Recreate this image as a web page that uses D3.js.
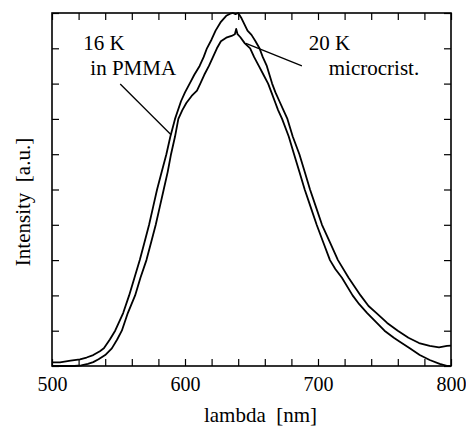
<!DOCTYPE html>
<html>
<head>
<meta charset="utf-8">
<script src="https://cdn.jsdelivr.net/npm/d3@7"></script>
<style>
  body { margin: 0; background: #fff; }
</style>
</head>
<body>
<div id="chart-area"></div>
<script>
/*
*   luminescence spectra, two samples
*/
let serif = "'Liberation Serif', 'Times New Roman', Times, serif";

// 16 K in PMMA (wider, outer curve)
let lambda16 = [500, 506, 514, 521, 526, 531, 536, 539, 543.5, 547.5, 553.5, 558, 562, 566, 569.5,
    573, 576, 579, 582.5, 586, 589, 592.5, 597, 600, 603.5, 607, 611, 614, 616.5, 620, 623, 627,
    631, 634, 636, 638, 640, 642.5, 647, 650, 653, 656, 658.5, 661.5, 663.5, 665.5, 668, 671, 674,
    677, 681, 686, 690, 694, 698.5, 703, 709, 715, 723, 732, 738, 744, 752, 760, 768, 776, 784,
    791, 797, 800];
let int16 = [0.010, 0.010, 0.015, 0.019, 0.024, 0.031, 0.042, 0.050, 0.075, 0.100, 0.150, 0.200,
    0.250, 0.300, 0.350, 0.400, 0.450, 0.500, 0.550, 0.600, 0.650, 0.700, 0.750, 0.775, 0.800,
    0.825, 0.850, 0.875, 0.900, 0.925, 0.950, 0.975, 0.992, 0.998, 1.000, 0.997, 1.000, 0.985,
    0.950, 0.938, 0.920, 0.900, 0.875, 0.850, 0.825, 0.800, 0.775, 0.750, 0.725, 0.700, 0.650,
    0.600, 0.550, 0.500, 0.450, 0.400, 0.350, 0.300, 0.250, 0.200, 0.170, 0.150, 0.122, 0.100,
    0.080, 0.065, 0.057, 0.053, 0.057, 0.058];

// 20 K microcrist. (inner curve)
let lambda20 = [500, 517, 522, 527, 531, 535, 540, 545, 549, 552.5, 557, 562.5, 566.5, 571, 574.5,
    578, 581, 584, 587, 589.5, 592.5, 595, 598, 601, 605, 609, 611.5, 614.5, 618, 621, 624, 627,
    631, 635, 637.5, 638.5, 639.5, 641.5, 645, 649, 652, 655.5, 659, 662.5, 665, 667.5, 670, 673,
    678, 682, 686, 690, 694.5, 699, 704, 709, 713, 718, 726, 731, 737, 743.5, 750, 757, 761.5, 769,
    776.5, 784, 791.5, 797.5, 800];
let int20 = [0.000, 0.000, 0.002, 0.006, 0.011, 0.019, 0.031, 0.050, 0.075, 0.100, 0.150, 0.200,
    0.250, 0.300, 0.350, 0.400, 0.450, 0.500, 0.550, 0.600, 0.650, 0.700, 0.725, 0.745, 0.765,
    0.780, 0.800, 0.825, 0.850, 0.875, 0.900, 0.920, 0.930, 0.935, 0.940, 0.955, 0.940, 0.932,
    0.914, 0.900, 0.875, 0.850, 0.825, 0.800, 0.775, 0.750, 0.725, 0.700, 0.650, 0.600, 0.550,
    0.500, 0.450, 0.400, 0.350, 0.300, 0.275, 0.250, 0.200, 0.175, 0.150, 0.125, 0.100, 0.080,
    0.069, 0.050, 0.031, 0.017, 0.006, 0.000, 0.000];

let xTickLabels = ["500", "600", "700", "800"];
let xMinorStep = 20;
let yTicks = [0, 0.1, 0.2, 0.3, 0.4, 0.5, 0.6, 0.7, 0.8, 0.9, 1.0];

let margin = {left: 52, right: 15, top: 13, bottom: 60};
let width = 466 - margin.left - margin.right;
let height = 426 - margin.top - margin.bottom;

let svg = d3.select("#chart-area")
    .append("svg")
    .attr("width", 466)
    .attr("height", 426);

let g = svg.append("g")
    .attr("transform", "translate(" + margin.left + "," + margin.top + ")");

let x = d3.scaleLinear().domain([500, 800]).range([0, width]);
let y = d3.scaleLinear().domain([0, 1]).range([height, 0]);

let xTicks = d3.range(500, 801, xMinorStep);

// bottom axis, ticks pointing in
let xAxis = d3.axisBottom(x)
    .tickValues(xTicks)
    .tickSizeInner(-7)
    .tickSizeOuter(0)
    .tickFormat(function(d){
        return xTickLabels.indexOf(String(d)) >= 0 ? d : "";
    });
let xg = g.append("g")
    .attr("transform", "translate(0," + height + ")")
    .call(xAxis)
    .attr("font-family", serif)
    .attr("font-size", 20);
xg.selectAll("text")
    .attr("y", 25)
    .attr("dy", 0)
    .attr("fill", "#000");

// top axis
g.append("g")
    .call(d3.axisTop(x).tickValues(xTicks).tickSizeInner(-7).tickSizeOuter(0).tickFormat(""));

// left and right axes, no labels
g.append("g")
    .call(d3.axisLeft(y).tickValues(yTicks).tickSizeInner(-7).tickSizeOuter(0).tickFormat(""));
g.append("g")
    .attr("transform", "translate(" + width + ",0)")
    .call(d3.axisRight(y).tickValues(yTicks).tickSizeInner(-7).tickSizeOuter(0).tickFormat(""));

g.selectAll(".tick line").attr("stroke", "#000").attr("stroke-width", 1.2);
g.selectAll(".domain").remove();

// frame
g.append("rect")
    .attr("width", width)
    .attr("height", height)
    .attr("fill", "none")
    .attr("stroke", "#000")
    .attr("stroke-width", 1.6);

let line = d3.line()
    .x(function(d){ return x(d[0]); })
    .y(function(d){ return y(d[1]); });

let series = [d3.zip(lambda16, int16), d3.zip(lambda20, int20)];

g.selectAll(".curve")
    .data(series)
    .enter()
    .append("path")
    .attr("class", "curve")
    .attr("d", line)
    .attr("fill", "none")
    .attr("stroke", "#000")
    .attr("stroke-width", 1.8)
    .attr("stroke-linejoin", "round");

// annotations
let leaders = [
    [[551.3, 0.799], [589.5, 0.655]],
    [[645.8, 0.914], [687.9, 0.850]]
];
g.selectAll(".leader")
    .data(leaders)
    .enter()
    .append("line")
    .attr("class", "leader")
    .attr("x1", function(d){ return x(d[0][0]); })
    .attr("y1", function(d){ return y(d[0][1]); })
    .attr("x2", function(d){ return x(d[1][0]); })
    .attr("y2", function(d){ return y(d[1][1]); })
    .attr("stroke", "#000")
    .attr("stroke-width", 1.3);

let notes = [
    {text: "16 K", x: 523.5, y: 0.895},
    {text: "in PMMA", x: 528.8, y: 0.824},
    {text: "20 K", x: 693.1, y: 0.895},
    {text: "microcrist.", x: 708.1, y: 0.824}
];
g.selectAll(".note")
    .data(notes)
    .enter()
    .append("text")
    .attr("class", "note")
    .attr("x", function(d){ return x(d.x); })
    .attr("y", function(d){ return y(d.y); })
    .attr("font-family", serif)
    .attr("font-size", 21)
    .text(function(d){ return d.text; });

// x label
g.append("text")
    .attr("x", width / 2 + 9)
    .attr("y", height + 56)
    .attr("text-anchor", "middle")
    .attr("font-family", serif)
    .attr("font-size", 21)
    .style("white-space", "pre")
    .text("lambda  [nm]");

// y label
g.append("text")
    .attr("transform", "rotate(-90)")
    .attr("x", -(202 - margin.top))
    .attr("y", -22)
    .attr("text-anchor", "middle")
    .attr("font-family", serif)
    .attr("font-size", 21)
    .style("white-space", "pre")
    .text("Intensity  [a.u.]");
</script>
</body>
</html>
